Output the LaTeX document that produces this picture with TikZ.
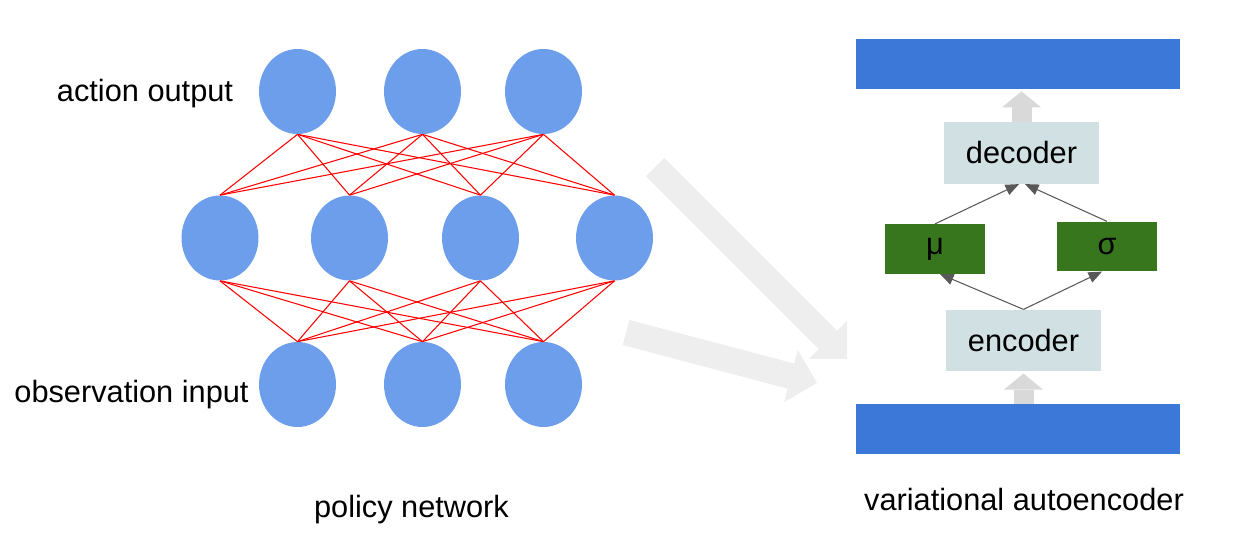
\documentclass[tikz,border=0pt]{standalone}
\usepackage{fontspec}
\setmainfont{Liberation Sans}
\usetikzlibrary{shapes.geometric,arrows.meta}

\definecolor{neuronblue}{HTML}{6D9EEB}
\definecolor{barblue}{HTML}{3C78D8}
\definecolor{coderbg}{HTML}{D0E0E3}
\definecolor{latentgreen}{HTML}{38761D}
\definecolor{linkgray}{HTML}{595959}
\definecolor{flowgray}{HTML}{D9D9D9}
\definecolor{bigflow}{HTML}{EEEEEE}

\tikzset{
  neuron/.style={ellipse,fill=neuronblue,minimum width=1.54cm,minimum height=1.7cm,inner sep=0},
  synapse/.style={red,line width=0.6pt},
  label text/.style={font=\fontsize{17.5}{21}\selectfont,inner sep=0},
  databar/.style={fill=barblue,minimum width=6.48cm,minimum height=1cm,inner sep=0},
  coderbox/.style={fill=coderbg,minimum width=3.1cm,minimum height=1.23cm,inner sep=0,font=\fontsize{17.5}{21}\selectfont},
  latentbox/.style={fill=latentgreen,minimum width=2cm,minimum height=0.99cm,inner sep=0,font=\fontsize{17.5}{21}\selectfont},
  link/.style={linkgray,line width=0.6pt,-{Triangle[length=0.27cm,width=0.22cm]}},
  flow/.style={flowgray,line width=0.4cm,-{Triangle[length=0.32cm,width=0.78cm,line width=0pt]}},
  bigarrow/.style={bigflow,line width=0.52cm,-{Triangle[length=0.54cm,width=1.08cm,line width=0pt]}}
}

\begin{document}
\begin{tikzpicture}[x=0.02cm,y=-0.02cm]
\useasboundingbox (0,0) rectangle (1234,550);
%
% policy network
	\foreach \n/\x in {1/297.5,2/422.5,3/543.5} {
		\node[neuron] (o\n) at (\x,91.5) {};
		\node[neuron] (i\n) at (\x,384.5) {};
	}
	\foreach \n/\x in {1/220,2/349.5,3/480.5,4/614.5}
		\node[neuron] (h\n) at (\x,238) {};
	\foreach \a in {1,2,3}
		\foreach \b in {1,2,3,4} {
			\draw[synapse] (o\a.south) -- (h\b.north);
			\draw[synapse] (h\b.south) -- (i\a.north);
		}
	\node[label text,anchor=base] (outlbl) at (145,101.5) {action output};
	\node[label text,anchor=base] (inlbl) at (131.5,402.5) {observation input};
	\node[label text,anchor=base] (netlbl) at (411.5,517.5) {policy network};
%
% variational autoencoder
	\node[databar] (top) at (1018,64) {};
	\node[databar] (bot) at (1018,429) {};
	\node[coderbox] (dec) at (1021.5,153) {decoder};
	\node[coderbox] (enc) at (1023.5,340.5) {encoder};
	\node[latentbox] (mu) at (935,249) {μ};
	\node[latentbox] (sig) at (1107,246.5) {σ};
	\draw[flow,shorten >=0.04cm] (bot.north -| enc.south) -- (enc.south);
	\draw[flow,shorten >=0.04cm] (dec.north) -- (top.south -| dec.north);
	\draw[link] (enc.north) -- ([xshift=0.1cm]mu.south);
	\draw[link] (enc.north) -- ([xshift=-0.1cm]sig.south);
	\draw[link] (mu.north) -- ([xshift=-0.05cm]dec.south);
	\draw[link] (sig.north) -- ([xshift=0.07cm]dec.south);
	\node[label text,anchor=base] (vaelbl) at (1024,510) {variational autoencoder};
%
% from the network to the autoencoder
	\coordinate (fromH) at (655,167);
	\coordinate (toH) at (847,359);
	\coordinate (fromI) at (626,332.5);
	\coordinate (toI) at (817,383);
	\draw[bigarrow] (fromH) -- (toH);
	\draw[bigarrow] (fromI) -- (toI);
%
\end{tikzpicture}
\end{document}
